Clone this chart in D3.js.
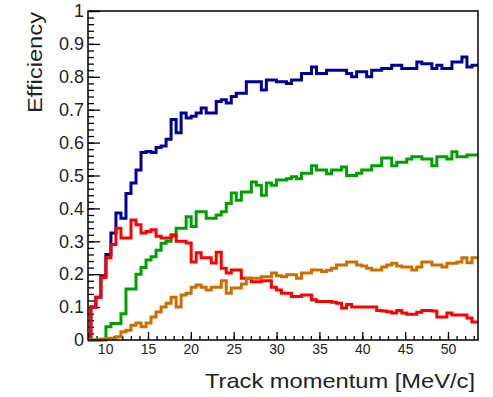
<!DOCTYPE html>
<html>
<head>
<meta charset="utf-8">
<script src="https://cdn.jsdelivr.net/npm/d3@7"></script>
<style>
  body { margin: 0; background: #fff; }
  text { font-family: "Liberation Sans", Arial, Helvetica, sans-serif; fill: #222; }
</style>
</head>
<body>
<script>
// histogram binning (MeV/c)
var binStart = 7.75;
var binWidth = 0.585;

var blueEff = [0.01,0.10,0.13,0.195,0.26,0.325,0.386,0.37,0.445,0.477,
  0.517,0.57,0.573,0.57,0.585,0.59,0.61,0.67,0.63,0.69,
  0.675,0.68,0.69,0.705,0.69,0.69,0.725,0.73,0.72,0.74,
  0.75,0.75,0.785,0.785,0.785,0.76,0.79,0.79,0.785,0.785,
  0.78,0.79,0.79,0.81,0.81,0.83,0.81,0.81,0.82,0.82,
  0.82,0.82,0.81,0.80,0.815,0.815,0.80,0.82,0.82,0.825,
  0.825,0.835,0.835,0.825,0.825,0.825,0.845,0.84,0.84,0.825,
  0.835,0.825,0.825,0.845,0.845,0.86,0.83,0.835,0.835];

var greenEff = [0,0,0,0,0.04,0.05,0.05,0.08,0.155,0.155,
  0.20,0.22,0.243,0.253,0.273,0.294,0.30,0.315,0.34,0.34,
  0.375,0.345,0.39,0.39,0.37,0.37,0.38,0.39,0.415,0.447,
  0.425,0.45,0.45,0.48,0.47,0.44,0.477,0.47,0.486,0.486,
  0.49,0.496,0.49,0.507,0.507,0.53,0.517,0.517,0.505,0.517,
  0.517,0.526,0.50,0.50,0.507,0.517,0.517,0.53,0.53,0.553,
  0.553,0.53,0.54,0.54,0.55,0.557,0.557,0.55,0.55,0.53,
  0.557,0.557,0.55,0.572,0.557,0.557,0.562,0.562,0.562];

var redEff = [0.01,0.10,0.13,0.19,0.25,0.29,0.34,0.31,0.31,0.365,
  0.35,0.325,0.33,0.335,0.315,0.31,0.31,0.32,0.30,0.30,
  0.295,0.237,0.265,0.25,0.25,0.234,0.267,0.218,0.204,0.213,
  0.213,0.188,0.188,0.177,0.177,0.18,0.18,0.16,0.152,0.142,
  0.142,0.132,0.132,0.137,0.137,0.122,0.117,0.117,0.117,0.115,
  0.112,0.097,0.108,0.10,0.10,0.10,0.10,0.10,0.09,0.088,
  0.086,0.082,0.09,0.082,0.078,0.078,0.084,0.09,0.09,0.088,
  0.07,0.07,0.082,0.076,0.076,0.076,0.067,0.055,0.055];

var orangeEff = [0,0,0,0.003,0.005,0.005,0.01,0.025,0.03,0.045,
  0.052,0.04,0.052,0.07,0.085,0.10,0.112,0.13,0.10,0.137,
  0.142,0.16,0.167,0.16,0.152,0.16,0.16,0.18,0.142,0.158,
  0.158,0.17,0.188,0.188,0.188,0.192,0.192,0.204,0.195,0.192,
  0.198,0.198,0.188,0.204,0.204,0.213,0.213,0.208,0.212,0.218,
  0.228,0.228,0.237,0.237,0.228,0.225,0.218,0.213,0.213,0.222,
  0.228,0.233,0.225,0.222,0.222,0.213,0.222,0.237,0.237,0.228,
  0.228,0.222,0.233,0.233,0.237,0.25,0.235,0.25,0.25];

var xTickValues = [10, 15, 20, 25, 30, 35, 40, 45, 50];
var yTickValues = [0, 0.1, 0.2, 0.3, 0.4, 0.5, 0.6, 0.7, 0.8, 0.9, 1];
var yTickLabels = ["0", "0.1", "0.2", "0.3", "0.4", "0.5", "0.6", "0.7", "0.8", "0.9", "1"];

var width = 493, height = 397;
var margin = {top: 11, right: 15, bottom: 57, left: 88};

var svg = d3.select("body").append("svg")
            .attr("width", width)
            .attr("height", height);

var x = d3.scaleLinear().domain([8, 53.5]).range([margin.left, width - margin.right]);
var y = d3.scaleLinear().domain([0, 1]).range([height - margin.bottom, margin.top]);

svg.append("clipPath").attr("id", "plotclip")
   .append("rect")
   .attr("x", margin.left)
   .attr("y", margin.top - 2)
   .attr("width", width - margin.left - margin.right)
   .attr("height", height - margin.top - margin.bottom + 4);

// minor ticks
var xMinor = d3.axisBottom(x).tickValues(d3.range(9, 54, 1)).tickSize(-4).tickFormat("");
svg.append("g").attr("transform", "translate(0," + y(0) + ")").call(xMinor)
   .call(function(g) { g.select(".domain").remove(); });

var yMinor = d3.axisLeft(y).tickValues(d3.range(0, 1.001, 0.02)).tickSize(-6).tickFormat("");
svg.append("g").attr("transform", "translate(" + x(8) + ",0)").call(yMinor)
   .call(function(g) { g.select(".domain").remove(); });

// major ticks + labels
var xMajor = d3.axisBottom(x).tickValues(xTickValues).tickSize(-8).tickPadding(4);
svg.append("g").attr("transform", "translate(0," + y(0) + ")").call(xMajor)
   .call(function(g) { g.select(".domain").remove(); })
   .selectAll("text").style("font-size", "14px");

var yMajor = d3.axisLeft(y).tickValues(yTickValues).tickSize(-12).tickPadding(4)
               .tickFormat(function(d, i) { return yTickLabels[i]; });
svg.append("g").attr("transform", "translate(" + x(8) + ",0)").call(yMajor)
   .call(function(g) { g.select(".domain").remove(); })
   .selectAll("text").style("font-size", "18px");

svg.selectAll(".tick line").attr("stroke", "#000").attr("stroke-width", 1.3);

// histograms
var stepLine = d3.line()
                 .x(function(d) { return x(d[0]); })
                 .y(function(d) { return y(d[1]); })
                 .curve(d3.curveStepAfter);

function histPoints(vals) {
  var pts = vals.map(function(v, i) { return [binStart + i * binWidth, v]; });
  pts.push([binStart + vals.length * binWidth, vals[vals.length - 1]]);
  return pts;
}

var series = [
  {vals: blueEff, color: "#00009c"},
  {vals: greenEff, color: "#00a000"},
  {vals: redEff, color: "#ff0000"},
  {vals: orangeEff, color: "#cc6e00"}
];

svg.append("g").attr("clip-path", "url(#plotclip)")
   .selectAll("path")
   .data(series)
   .enter().append("path")
   .attr("d", function(s) { return stepLine(histPoints(s.vals)); })
   .attr("fill", "none")
   .attr("stroke", function(s) { return s.color; })
   .attr("stroke-width", 3)
   .attr("stroke-linejoin", "miter");

// frame
svg.append("rect")
   .attr("x", x(8))
   .attr("y", y(1))
   .attr("width", x(53.5) - x(8))
   .attr("height", y(0) - y(1))
   .attr("fill", "none")
   .attr("stroke", "#000")
   .attr("stroke-width", 1.5);

// axis titles
svg.append("text")
   .attr("x", 475)
   .attr("y", 388)
   .attr("text-anchor", "end")
   .attr("textLength", 270)
   .attr("lengthAdjust", "spacingAndGlyphs")
   .style("font-size", "21px")
   .text("Track momentum [MeV/c]");

svg.append("text")
   .attr("transform", "translate(42,12) rotate(-90)")
   .attr("text-anchor", "end")
   .attr("textLength", 101)
   .attr("lengthAdjust", "spacingAndGlyphs")
   .style("font-size", "21px")
   .text("Efficiency");
</script>
</body>
</html>
